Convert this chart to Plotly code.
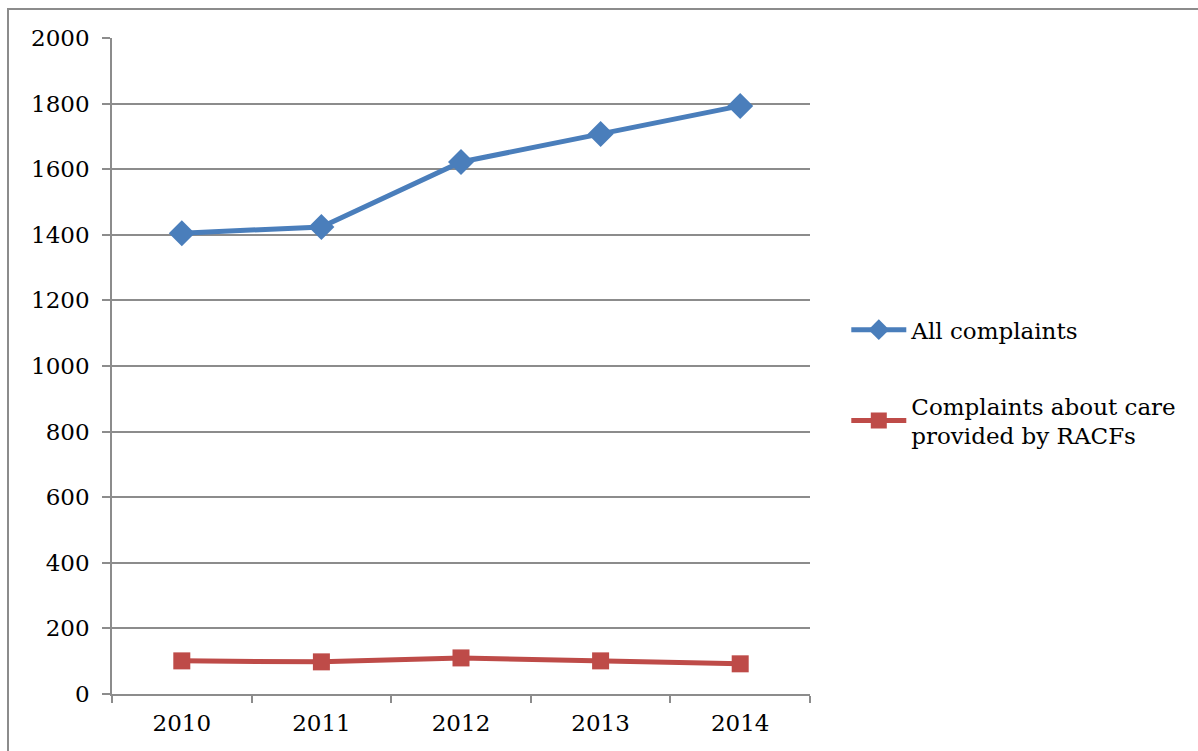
import plotly.graph_objects as go

years = ["2010", "2011", "2012", "2013", "2014"]
all_complaints = [1405, 1424, 1622, 1707, 1793]
racf_complaints = [101, 98, 110, 101, 92]
y_ticks = list(range(0, 2001, 200))

FONT = "DejaVu Serif"
GRID = "#8c8c8c"

fig = go.Figure()
fig.add_trace(go.Scatter(
    x=years, y=all_complaints, name="All complaints",
    mode="lines+markers", legendgroup="a",
    line=dict(color="#4a7ebb", width=5),
    marker=dict(symbol="diamond", size=20, color="#4a7ebb"),
))
fig.add_trace(go.Scatter(
    x=years, y=racf_complaints, name="Complaints about care<br>provided by RACFs",
    mode="lines+markers", legendgroup="b",
    line=dict(color="#be4b48", width=5),
    marker=dict(symbol="square", size=17, color="#be4b48"),
))

fig.update_layout(
    width=1198, height=751,
    margin=dict(l=112, r=388, t=38, b=57),
    paper_bgcolor="white", plot_bgcolor="white",
    font=dict(family=FONT, size=23, color="black"),
    legend=dict(
        x=1.052, y=0.588, xanchor="left", yanchor="top",
        traceorder="grouped", tracegroupgap=43,
        itemwidth=55, font=dict(family=FONT, size=23),
        bgcolor="rgba(0,0,0,0)",
    ),
    xaxis=dict(
        type="category", showgrid=False,
        showline=True, linecolor=GRID, linewidth=1.5,
        ticks="outside", ticklen=7, tickcolor=GRID, tickwidth=1.5,
        tickson="boundaries", range=[-0.5, 4.5],
        ticklabelstandoff=8,
    ),
    yaxis=dict(
        range=[0, 2000], tickvals=y_ticks,
        showgrid=True, gridcolor=GRID, gridwidth=1.5,
        showline=True, linecolor=GRID, linewidth=1.5,
        ticks="outside", ticklen=8, tickcolor=GRID, tickwidth=1.5,
        ticklabelstandoff=8, zeroline=False,
    ),
    shapes=[dict(
        type="rect", xref="paper", yref="paper",
        x0=(8 - 112) / 698, x1=3, y0=-1, y1=1 + (38 - 9) / 656,
        line=dict(color="#8c8c8c", width=2), layer="below",
    )],
)

fig.write_html("out.html")
